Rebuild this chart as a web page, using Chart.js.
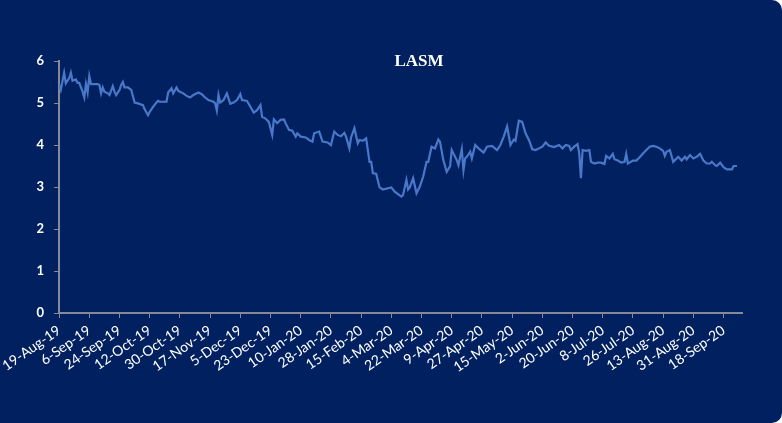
<!DOCTYPE html>
<html>
<head>
<meta charset="utf-8">
<script src="https://cdn.jsdelivr.net/npm/chart.js@4"></script>
<style>
  html, body { margin: 0; padding: 0; background: #fff; }
  #box {
    position: absolute; left: 0; top: 0; width: 782px; height: 423px;
    background: #002060; border-radius: 0 10px 10px 0; overflow: hidden;
  }
</style>
</head>
<body>
<div id="box"><canvas id="myChart" width="782" height="423"></canvas></div>
<script>
// x = days since 19-Aug-19
const days = [
  0,1,3,4,6,7,8,10,11,12,14,15,16,17,18,19,20,23,24,25,26,27,29,30,32,33,34,36,37,38,
  39,41,43,45,47,50,51,53,54,56,58,59,60,64,65,67,68,70,71,72,74,76,78,80,
  83,85,87,89,92,93,94,95,96,98,100,102,104,106,108,109,112,114,116,118,
  120,121,123,125,127,128,130,132,134,135,137,139,141,142,144,147,149,151,152,155,157,160,
  162,164,166,168,170,171,173,174,176,178,179,181,183,184,185,186,187,189,191,193,
  196,198,200,202,204,205,207,208,209,211,213,215,217,219,220,222,224,226,227,229,
  231,233,234,237,238,240,
  241,242,243,245,246,248,250,253,255,258,261,263,265,267,269,271,272,274,276,278,
  280,282,284,286,288,290,292,295,298,300,302,304,305,307,309,310,311,312,314,316,317,319,321,
  323,325,326,328,330,331,333,335,337,338,339,340,342,344,346,348,350,352,354,356,
  358,360,361,362,364,366,367,369,371,373,374,376,378,380,382,384,386,388,389,391,
  392,394,396,398,401,402,404
]
const lasm = [
  5.43,5.31,5.72,5.47,5.59,5.72,5.53,5.56,5.48,5.48,5.27,5.13,5.45,5.25,5.64,5.45,5.45,5.45,5.43,5.23,
  5.37,5.27,5.23,5.19,5.40,5.27,5.19,5.31,5.43,5.50,5.37,5.37,5.31,5.01,4.99,4.95,4.85,4.71,4.79,4.91,
  5.01,5.05,5.03,5.03,5.25,5.35,5.23,5.37,5.29,5.27,5.23,5.17,5.13,5.19,
  5.25,5.21,5.13,5.07,5.03,4.99,4.82,5.19,5.01,5.07,5.23,4.98,5.01,5.07,5.21,5.07,5.05,4.91,4.77,4.83,
  4.95,4.67,4.63,4.55,4.24,4.61,4.52,4.60,4.61,4.52,4.36,4.34,4.20,4.28,4.20,4.18,4.12,4.08,4.28,4.32,
  4.08,4.06,
  4.00,4.32,4.24,4.21,4.29,4.20,3.92,4.18,4.40,4.04,4.12,4.10,4.16,3.88,3.60,3.60,3.33,3.31,2.99,2.94,
  2.97,2.99,2.89,2.83,2.77,2.81,3.17,2.94,2.99,3.21,2.85,3.01,3.25,3.60,3.60,3.96,3.92,4.13,4.08,3.64,
  3.36,3.49,3.88,3.64,3.52,3.90,
  3.40,3.68,3.72,3.84,3.68,4.00,3.92,3.82,3.96,3.98,3.88,4.00,4.20,4.44,4.00,4.13,4.10,4.58,4.55,4.28,
  4.12,3.90,3.88,3.92,3.96,4.06,3.98,3.95,4.00,3.92,4.00,3.98,3.88,3.96,4.02,3.80,3.21,3.88,3.86,3.88,
  3.60,3.56,3.58,
  3.58,3.55,3.74,3.68,3.79,3.66,3.63,3.58,3.60,3.79,3.56,3.58,3.63,3.63,3.71,3.80,3.88,3.96,3.98,3.96,
  3.92,3.86,3.74,3.84,3.88,3.60,3.64,3.72,3.63,3.72,3.66,3.76,3.68,3.72,3.79,3.63,3.56,3.56,3.60,3.52,
  3.50,3.58,3.47,3.42,3.42,3.50,3.50
]
const tickLabels = ['19-Aug-19','6-Sep-19','24-Sep-19','12-Oct-19','30-Oct-19','17-Nov-19','5-Dec-19',
  '23-Dec-19','10-Jan-20','28-Jan-20','15-Feb-20','4-Mar-20','22-Mar-20','9-Apr-20','27-Apr-20',
  '15-May-20','2-Jun-20','20-Jun-20','8-Jul-20','26-Jul-20','13-Aug-20','31-Aug-20','18-Sep-20']
const tickStep = 18
const lastDay = 407

const axisColor = '#858a96'

// title sits inside the plot area, slightly right of centre
const titlePlugin = {
  id: 'insideTitle',
  afterDraw(chart) {
    const { ctx, chartArea } = chart
    ctx.save()
    ctx.fillStyle = '#fff'
    ctx.font = 'bold 17px "Liberation Serif", "Times New Roman", serif'
    ctx.textAlign = 'center'
    ctx.textBaseline = 'middle'
    ctx.fillText('LASM', chartArea.left + chartArea.width * 0.527, chartArea.top + 1)
    ctx.restore()
  }
}

new Chart(document.getElementById('myChart'), {
  type: 'line',
  data: {
    datasets: [{
      label: 'LASM',
      data: days.map((d, i) => ({ x: d, y: lasm[i] })),
      borderColor: '#4a78c8',
      borderWidth: 2.2,
      pointRadius: 0,
      tension: 0
    }]
  },
  options: {
    responsive: false,
    animation: false,
    layout: { padding: { top: 61, right: 40, left: 0, bottom: 0 } },
    plugins: { legend: { display: false }, tooltip: { enabled: false } },
    scales: {
      x: {
        type: 'linear',
        min: 0,
        max: lastDay,
        afterBuildTicks: s => { s.ticks = s.ticks.filter(t => t.value % tickStep === 0 && t.value / tickStep < tickLabels.length) },
        afterFit: s => { s.height = 110 },
        ticks: {
          stepSize: tickStep,
          includeBounds: false,
          autoSkip: false,
          minRotation: 35,
          maxRotation: 35,
          padding: 4,
          color: '#fff',
          font: { family: 'Lato', size: 14 },
          callback: v => tickLabels[v / tickStep]
        },
        grid: { drawOnChartArea: false, drawTicks: true, tickLength: 5, color: axisColor },
        border: { color: axisColor, width: 2 }
      },
      y: {
        min: 0,
        max: 6,
        afterFit: s => { s.width = 57 },
        ticks: {
          stepSize: 1,
          padding: 10,
          color: '#fff',
          font: { family: 'Lato', size: 13, weight: 'bold' }
        },
        grid: { drawOnChartArea: false, drawTicks: true, tickLength: 5, color: axisColor },
        border: { color: axisColor, width: 2 }
      }
    }
  },
  plugins: [titlePlugin]
})
</script>
</body>
</html>
